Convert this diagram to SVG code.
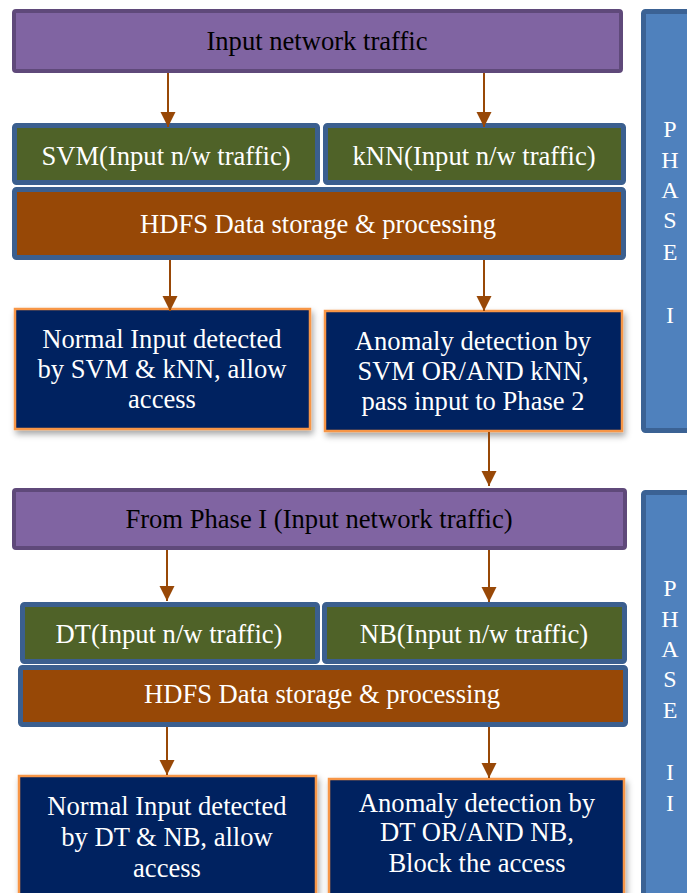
<svg xmlns="http://www.w3.org/2000/svg" width="687" height="893" viewBox="0 0 687 893">
<style>
.t{font-family:"Liberation Serif","Times New Roman",serif;font-size:26.6px;text-anchor:middle}
.purple{fill:#8064A2;stroke:#5F497A;stroke-width:4}
.green{fill:#4F6228;stroke:#3B5F8F;stroke-width:5}
.hdfs{fill:#974806;stroke:#3B5F8F;stroke-width:5}
.navy{fill:#002060;stroke:#F79646;stroke-width:2.5;filter:url(#sh)}
.phase{fill:#4F81BD;stroke:#3B6294;stroke-width:5}
.dark{fill:#000}
.light{fill:#fff}
.ph{font-size:24px;fill:#fff}
.conn{stroke:#984807;stroke-width:2;fill:none;marker-end:url(#ah)}
</style>
<defs>
<filter id="sh" x="-10%" y="-10%" width="130%" height="130%">
<feDropShadow dx="2" dy="4" stdDeviation="3" flood-color="#000" flood-opacity="0.35"/>
</filter>
<marker id="ah" markerUnits="userSpaceOnUse" markerWidth="16" markerHeight="16" refX="15" refY="7.5" orient="auto">
<path d="M0,0 L15,7.5 L0,15 Z" fill="#984807"/>
</marker>
</defs>

<g id="phase1">
<rect class="phase" x="643.5" y="11.5" width="60" height="419" rx="2"/>
<text class="t ph" x="670" y="137">P</text>
<text class="t ph" x="670" y="168">H</text>
<text class="t ph" x="670" y="198">A</text>
<text class="t ph" x="670" y="228">S</text>
<text class="t ph" x="670" y="260">E</text>
<text class="t ph" x="670" y="323">I</text>
</g>
<g id="phase2">
<rect class="phase" x="643.5" y="492.5" width="60" height="450" rx="2"/>
<text class="t ph" x="670" y="596">P</text>
<text class="t ph" x="670" y="627">H</text>
<text class="t ph" x="670" y="657">A</text>
<text class="t ph" x="670" y="687">S</text>
<text class="t ph" x="670" y="718">E</text>
<text class="t ph" x="670" y="780">I</text>
<text class="t ph" x="670" y="811">I</text>
</g>

<g id="input1">
<rect class="purple" x="14" y="11" width="607" height="60" rx="2"/>
<text class="t dark" x="317" y="50">Input network traffic</text>
</g>
<g id="svm">
<rect class="green" x="14.5" y="125.5" width="303" height="57" rx="2"/>
<text class="t light" x="166" y="165">SVM(Input n/w traffic)</text>
</g>
<g id="knn">
<rect class="green" x="325.5" y="125.5" width="298" height="57" rx="2"/>
<text class="t light" x="474" y="165">kNN(Input n/w traffic)</text>
</g>
<g id="hdfs1">
<rect class="hdfs" x="14.5" y="189.5" width="609" height="68" rx="2"/>
<text class="t light" x="318" y="233">HDFS Data storage &amp; processing</text>
</g>
<g id="normal1">
<rect class="navy" x="15" y="309" width="295" height="120"/>
<text class="t light" x="162" y="348">Normal Input detected</text>
<text class="t light" x="162" y="378">by SVM &amp; kNN, allow</text>
<text class="t light" x="162" y="408">access</text>
</g>
<g id="anomaly1">
<rect class="navy" x="325" y="311" width="297" height="120"/>
<text class="t light" x="473" y="350">Anomaly detection by</text>
<text class="t light" x="473" y="380">SVM OR/AND kNN,</text>
<text class="t light" x="473" y="410">pass input to Phase 2</text>
</g>

<g id="input2">
<rect class="purple" x="14" y="490" width="611" height="58" rx="2"/>
<text class="t dark" x="319" y="528">From Phase I (Input network traffic)</text>
</g>
<g id="dt">
<rect class="green" x="22.5" y="604.5" width="295" height="57" rx="2"/>
<text class="t light" x="169" y="643">DT(Input n/w traffic)</text>
</g>
<g id="nb">
<rect class="green" x="324.5" y="604.5" width="300" height="57" rx="2"/>
<text class="t light" x="474" y="643">NB(Input n/w traffic)</text>
</g>
<g id="hdfs2">
<rect class="hdfs" x="20.5" y="667.5" width="605" height="57" rx="2"/>
<text class="t light" x="322" y="703">HDFS Data storage &amp; processing</text>
</g>
<g id="normal2">
<rect class="navy" x="19" y="776" width="297" height="140"/>
<text class="t light" x="167" y="815">Normal Input detected</text>
<text class="t light" x="167" y="846">by DT &amp; NB, allow</text>
<text class="t light" x="167" y="877">access</text>
</g>
<g id="anomaly2">
<rect class="navy" x="329" y="779" width="295" height="140"/>
<text class="t light" x="477" y="812">Anomaly detection by</text>
<text class="t light" x="477" y="841">DT OR/AND NB,</text>
<text class="t light" x="477" y="872">Block the access</text>
</g>

<g id="connectors">
<line class="conn" x1="168" y1="73" x2="168" y2="127"/>
<line class="conn" x1="484" y1="73" x2="484" y2="127"/>
<line class="conn" x1="170" y1="260" x2="170" y2="311"/>
<line class="conn" x1="484" y1="260" x2="484" y2="311"/>
<line class="conn" x1="489" y1="432" x2="489" y2="486"/>
<line class="conn" x1="167" y1="550" x2="167" y2="601"/>
<line class="conn" x1="489" y1="550" x2="489" y2="602"/>
<line class="conn" x1="167" y1="727" x2="167" y2="775"/>
<line class="conn" x1="489" y1="727" x2="489" y2="778"/>
</g>
</svg>
